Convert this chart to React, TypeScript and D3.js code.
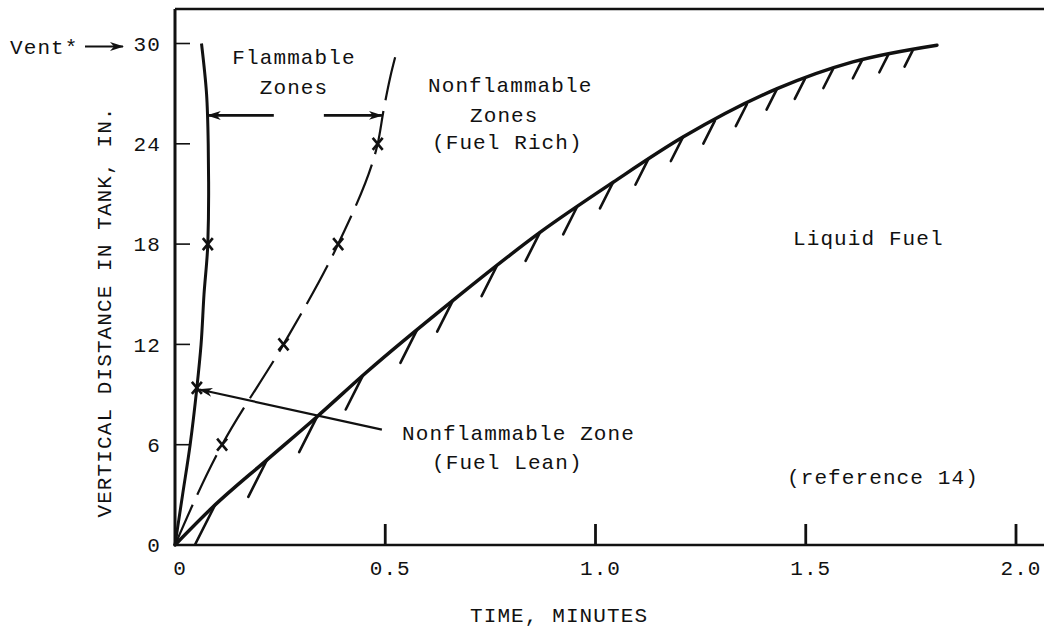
import React, { useEffect, useRef } from 'react';
import * as d3 from 'd3';

// axis ticks
const timeTicks = [0, 0.5, 1.0, 1.5, 2.0];
const timeTickLabels = ['0', '0.5', '1.0', '1.5', '2.0'];
const distTicks = [0, 6, 12, 18, 24, 30];

// fuel lean limit (solid line)
const leanTime = [0, 0.018, 0.036, 0.052, 0.062, 0.069, 0.078, 0.08, 0.079, 0.075, 0.063];
const leanDist = [0, 3, 6, 9.4, 12, 15, 18, 21, 24, 27, 30];
const leanMarkTime = [0.052, 0.078];
const leanMarkDist = [9.4, 18];

// fuel rich limit (dashed line)
const richTime = [0, 0.112, 0.258, 0.388, 0.482, 0.496, 0.512, 0.528];
const richDist = [0, 6, 12, 18, 24, 26, 28, 29.6];
const richMarkTime = [0.112, 0.258, 0.388, 0.482];
const richMarkDist = [6, 12, 18, 24];

// liquid fuel surface
const liquidTime = [0, 0.09, 0.218, 0.337, 0.456, 0.662, 0.868, 1.042, 1.208, 1.432, 1.612, 1.812];
const liquidDist = [0, 2.27, 5.08, 7.66, 10.35, 14.65, 18.7, 21.7, 24.4, 27.3, 28.9, 29.9];
const hatchTime = [0.095, 0.219, 0.338, 0.447, 0.575, 0.661, 0.765, 0.868, 0.956, 1.042, 1.125,
  1.208, 1.284, 1.36, 1.432, 1.498, 1.565, 1.634, 1.696, 1.755];

const FONT = "'Liberation Mono', 'Courier New', monospace";
const INK = '#111';

export default function App() {
  const ref = useRef<SVGSVGElement>(null);

  useEffect(() => {
    const svg = d3.select(ref.current);
    svg.selectAll('*').remove();

    const x = d3.scaleLinear().domain([0, 2]).range([175, 1016]);
    const y = d3.scaleLinear().domain([0, 30]).range([545, 43.5]);

    // arrowhead
    svg.append('defs').append('marker')
      .attr('id', 'head')
      .attr('viewBox', '0 0 14 10')
      .attr('refX', 13).attr('refY', 5)
      .attr('markerWidth', 14).attr('markerHeight', 10)
      .attr('markerUnits', 'userSpaceOnUse')
      .attr('orient', 'auto')
      .append('path')
      .attr('d', 'M0,0.5L14,5L0,9.5L4,5Z')
      .attr('fill', INK);

    // frame: left axis, bottom axis, top line
    const frame = svg.append('g').attr('stroke', INK).attr('fill', 'none');
    frame.append('line').attr('x1', x(0)).attr('x2', x(0)).attr('y1', 9).attr('y2', y(0)).attr('stroke-width', 3);
    frame.append('line').attr('x1', x(0)).attr('x2', 1044).attr('y1', y(0)).attr('y2', y(0)).attr('stroke-width', 2.5);
    frame.append('line').attr('x1', x(0)).attr('x2', 1044).attr('y1', 9).attr('y2', 9).attr('stroke-width', 2.5);

    // y ticks point inward
    frame.selectAll('.yt').data(distTicks.slice(1)).join('line')
      .attr('x1', x(0)).attr('x2', x(0) + 15)
      .attr('y1', d => y(d)).attr('y2', d => y(d))
      .attr('stroke-width', 1.6);

    // x ticks point up
    frame.selectAll('.xt').data(timeTicks.slice(1)).join('line')
      .attr('x1', d => x(d)).attr('x2', d => x(d))
      .attr('y1', y(0)).attr('y2', y(0) - 21)
      .attr('stroke-width', 2.8);

    const text = svg.append('g')
      .attr('font-family', FONT).attr('font-size', 21)
      .attr('fill', INK).style('letter-spacing', '1.1px');

    function label(t: string, px: number, py: number, anchor = 'start') {
      return text.append('text').attr('x', px).attr('y', py).attr('dy', '0.35em')
        .attr('text-anchor', anchor).text(t);
    }

    distTicks.forEach(d => label(String(d), 161, y(d), 'end'));
    timeTicks.forEach((d, i) => label(timeTickLabels[i], x(d) + 5, 568, 'middle'));

    label('TIME, MINUTES', 470, 615);
    label('VERTICAL DISTANCE IN TANK, IN.', 0, 0, 'middle')
      .attr('transform', 'translate(104,312) rotate(-90)');

    // curves
    const pts = (ts: number[], ds: number[]) => ts.map((t, i) => [t, ds[i]] as [number, number]);
    const lineY = d3.line<[number, number]>().x(d => x(d[0])).y(d => y(d[1])).curve(d3.curveMonotoneY);
    const lineX = d3.line<[number, number]>().x(d => x(d[0])).y(d => y(d[1])).curve(d3.curveMonotoneX);

    svg.append('path').attr('d', lineY(pts(leanTime, leanDist)))
      .attr('fill', 'none').attr('stroke', INK).attr('stroke-width', 3);

    svg.append('path').attr('d', lineY(pts(richTime, richDist)))
      .attr('fill', 'none').attr('stroke', INK).attr('stroke-width', 2.2)
      .attr('stroke-dasharray', '44 11');

    svg.append('path').attr('d', lineX(pts(liquidTime, liquidDist)))
      .attr('fill', 'none').attr('stroke', INK).attr('stroke-width', 3.5)
      .attr('stroke-linecap', 'round');

    // hatching under the liquid surface
    const onCurve = d3.scaleLinear().domain(liquidTime).range(liquidDist);
    svg.append('g').attr('stroke', INK).attr('stroke-width', 2.6).attr('stroke-linecap', 'round')
      .selectAll('line').data(hatchTime).join('line')
      .attr('x1', d => x(d)).attr('y1', d => y(onCurve(d)))
      .attr('x2', d => x(d) - 0.45 * (45 - 15 * d))
      .attr('y2', d => y(onCurve(d)) + 0.89 * (45 - 15 * d));

    // x markers
    const crosses = pts(leanMarkTime, leanMarkDist).concat(pts(richMarkTime, richMarkDist));
    svg.append('g').selectAll('path').data(crosses).join('path')
      .attr('transform', d => `translate(${x(d[0])},${y(d[1])})`)
      .attr('d', 'M-5,-6L5,6M5,-6L-5,6')
      .attr('stroke', INK).attr('stroke-width', 2.6).attr('fill', 'none');

    // annotation arrows
    const arrows = svg.append('g').attr('stroke', INK).attr('stroke-width', 2.6);
    arrows.append('line').attr('x1', x(0.235)).attr('y1', y(25.7)).attr('x2', x(0.078)).attr('y2', y(25.7))
      .attr('marker-end', 'url(#head)');
    arrows.append('line').attr('x1', x(0.354)).attr('y1', y(25.7)).attr('x2', x(0.492)).attr('y2', y(25.7))
      .attr('marker-end', 'url(#head)');
    arrows.append('line').attr('x1', x(0.492)).attr('y1', y(6.9)).attr('x2', x(0.058)).attr('y2', y(9.3))
      .attr('stroke-width', 2.2).attr('marker-end', 'url(#head)');
    arrows.append('line').attr('x1', 85).attr('y1', y(30) + 3).attr('x2', 123).attr('y2', y(30) + 3)
      .attr('stroke-width', 2).attr('marker-end', 'url(#head)');

    label('Vent*', 10, y(30) + 3);
    label('Flammable', 294, 57, 'middle');
    label('Zones', 294, 87, 'middle');
    label('Nonflammable', 428, 85);
    label('Zones', 470, 115);
    label('(Fuel Rich)', 432, 142);
    label('Liquid Fuel', 793, 238);
    label('Nonflammable Zone', 402, 433);
    label('(Fuel Lean)', 432, 462);
    label('(reference 14)', 787, 477);
  }, []);

  return (
    <svg ref={ref} width={1044} height={630}
      style={{ position: 'absolute', left: 0, top: 0, background: '#fff' }} />
  );
}
